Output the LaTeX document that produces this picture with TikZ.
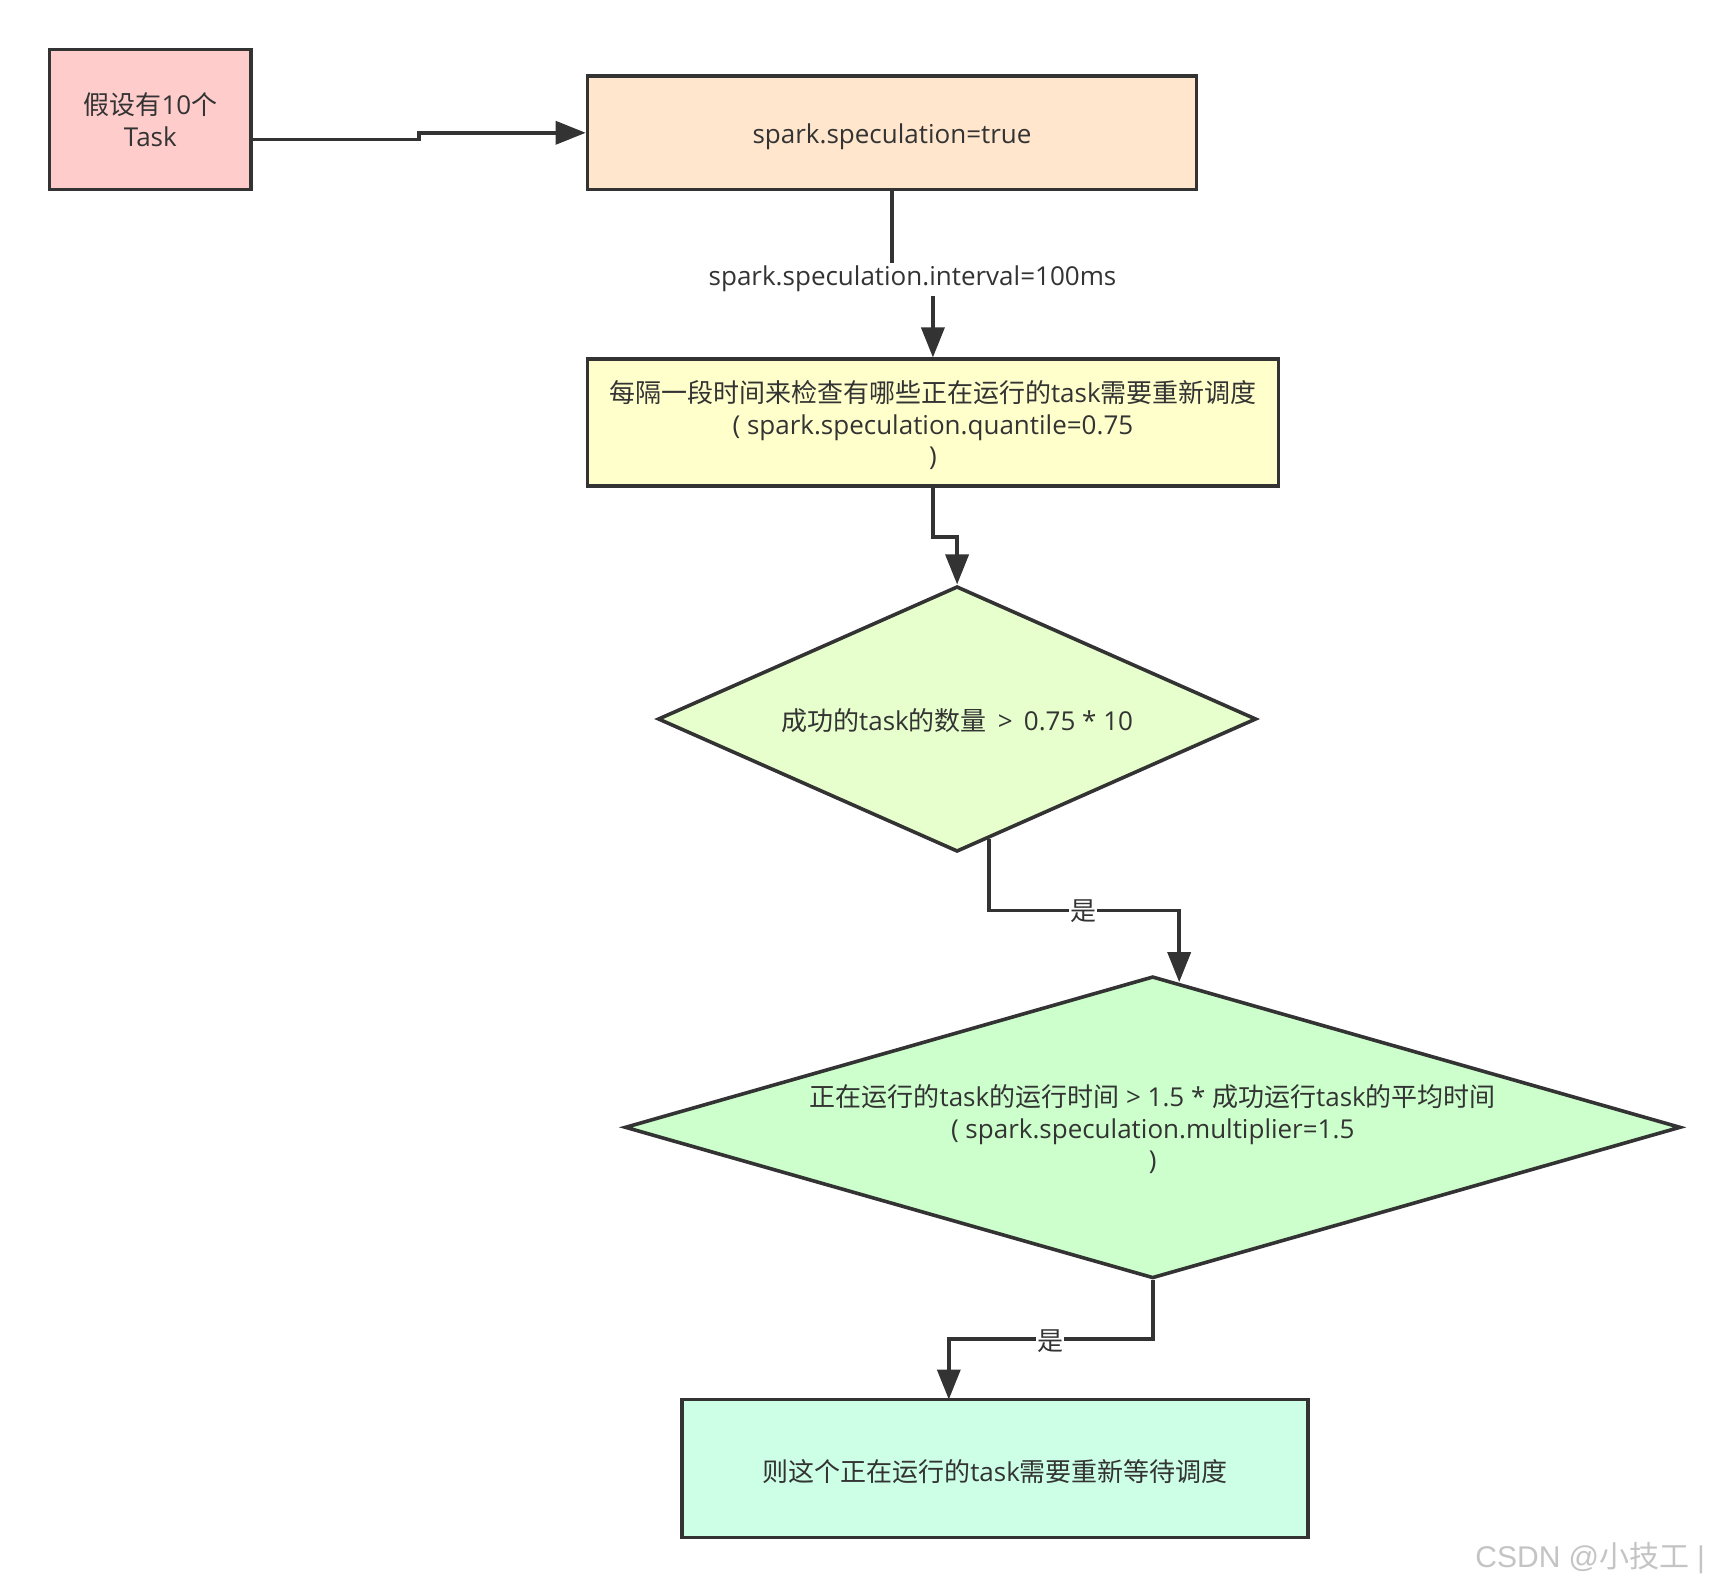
\documentclass[tikz,border=0pt]{standalone}
\usepackage{fontspec}
\setmainfont{Open Sans}
\newfontfamily\cjk{Noto Sans CJK SC}
\newfontfamily\wmlat{Liberation Sans}
\usetikzlibrary{shapes.geometric,arrows.meta,calc}
\newcommand\zh[1]{{\cjk #1}}
\newcommand\fs{\fontsize{26}{31.5}\selectfont}
\definecolor{lc}{HTML}{333333}
\definecolor{tc}{HTML}{333333}
\definecolor{cA}{HTML}{FFCCCC}
\definecolor{cB}{HTML}{FFE6CC}
\definecolor{cC}{HTML}{FFFFCC}
\definecolor{cD}{HTML}{E6FFCC}
\definecolor{cE}{HTML}{CCFFCC}
\definecolor{cF}{HTML}{CCFFE6}
\definecolor{wm}{HTML}{C4C4C4}
\begin{document}
\begin{tikzpicture}[x=1pt,y=-1pt,
  box/.style={draw=lc,line width=3.6pt,rectangle,inner sep=0pt,align=center,font=\fs,text=tc},
  dia/.style={draw=lc,line width=3.6pt,diamond,inner sep=0pt},
  lbl/.style={align=center,font=\fs,inner sep=0pt,text=tc},
  conn/.style={draw=lc,line width=3.6pt,-{Triangle[length=30pt,width=23pt]}},
  elbl/.style={fill=white,font=\fs,inner sep=1pt,text=tc}]
\fill[white] (0,0) rectangle (1728,1588);
\useasboundingbox (0,0) rectangle (1728,1588);

\node[box,fill=cA,minimum width=201.7,minimum height=140] (b1) at (150.4,119.6) {\zh{假设有}10\zh{个}\\Task};
\node[box,fill=cB,minimum width=609,minimum height=113.6] (b2) at (892,132.8) {\rule{0pt}{28.6pt}spark.speculation=true};
\node[box,fill=cC,minimum width=691,minimum height=126.7] (b3) at (932.9,422.6)
  {\rule{0pt}{27.3pt}\zh{每隔一段时间来检查有哪些正在运行的}task\zh{需要重新调度}\\(~spark.speculation.quantile=0.75\\)};
\node[dia,fill=cD,minimum width=598.4,minimum height=265.5] (d1) at (957.1,719) {};
\node[lbl] (t1) at ([yshift=-2pt]d1.center) {\zh{成功的}task\zh{的数量} \,>\, 0.75 * 10};
\node[dia,fill=cE,minimum width=1055.8,minimum height=302] (d2) at (1152.7,1127.3) {};
\node[lbl] (t2) at ([yshift=-2pt]d2.center)
  {\zh{正在运行的}task\zh{的运行时间} > 1.5 * \zh{成功运行}task\zh{的平均时间}\\(~spark.speculation.multiplier=1.5\\)};
\node[box,fill=cF,minimum width=626,minimum height=137.8] (b4) at (995.1,1468.4)
  {\rule{0pt}{27.5pt}\zh{则这个正在运行的}task\zh{需要重新等待调度}};

% connectors
\coordinate (s1) at ([yshift=-20pt]b1.east);
\draw[conn] (s1) -- (s1 -| 419,0) -- (419,132.8) -- (b2.west);

\draw[conn] (b2.south) -- (892,276.6) -- (932.9,276.6) -- (b3.north);
\node[elbl,minimum height=33,inner xsep=2pt] (l1) at (912.5,279) {spark.speculation.interval=100ms};

\draw[conn] (b3.south) -- (932.9,537) -- (957.1,537) -- (d1.north);

\coordinate (p1) at ($(d1.south)!0.105!(d1.east)$);
\coordinate (p2) at ($(d2.north)!0.05!(d2.east)$);
\draw[conn] (p1) -- (p1 |- 0,910.3) -- (p2 |- 0,910.3) -- (p2);
\node[elbl] (l2) at (1083.3,911) {\zh{是}};

\draw[conn] (d2.south) -- (1152.7,1339) -- (948.8,1339) -- (948.8,1399.5);
\node[elbl] (l3) at (1050.2,1341) {\zh{是}};

\node[anchor=east,text=wm,font=\fontsize{30}{32}\selectfont,inner sep=0pt] (wmk) at (1705,1558) {{\wmlat CSDN @}{\cjk 小技工} {\wmlat |}};
\end{tikzpicture}
\end{document}
